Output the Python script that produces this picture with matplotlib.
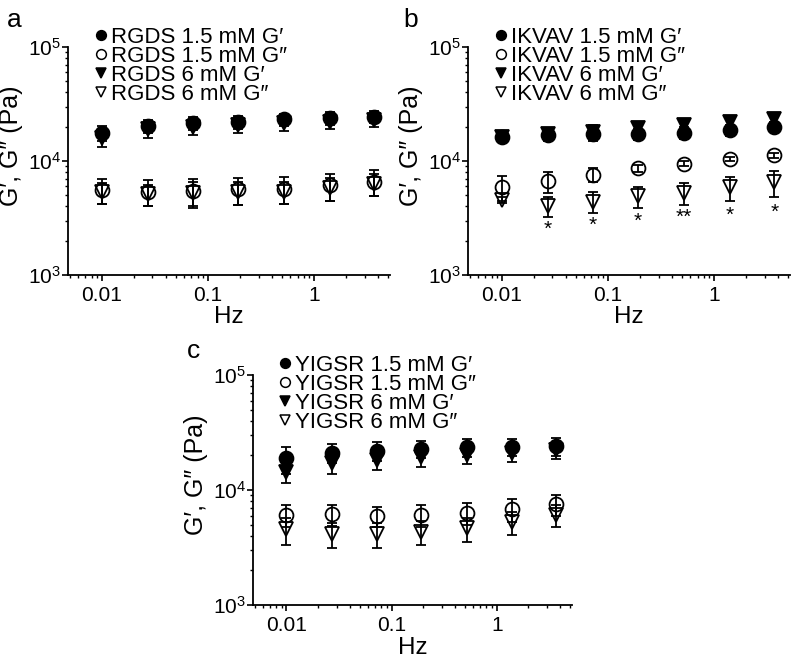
import numpy as np
import matplotlib.pyplot as plt
from matplotlib.ticker import LogLocator, NullFormatter

plt.rcParams['font.family'] = ['Liberation Sans', 'DejaVu Sans']
plt.rcParams['mathtext.fontset'] = 'custom'
plt.rcParams['mathtext.rm'] = 'Liberation Sans'
plt.rcParams['mathtext.it'] = 'Liberation Sans'

# ========================= DATA =========================
freq = [0.01, 0.027, 0.072, 0.19, 0.52, 1.4, 3.7]

# panel a - RGDS
a_g1_15 = [17600, 20300, 21500, 22000, 23200, 23800, 24300]
a_g1_15_err = [2500, 2800, 2800, 2800, 2900, 2900, 2900]
a_g2_15 = [5600, 5400, 5500, 5650, 5700, 6100, 6600]
a_g2_15_err = [1400, 1400, 1500, 1500, 1500, 1600, 1700]
a_g1_6 = [16000, 19000, 20000, 20800, 21500, 22200, 23000]
a_g1_6_err = [2600, 3000, 3000, 3200, 3200, 3200, 3200]
a_g2_6 = [5300, 5100, 5200, 5300, 5400, 5800, 6300]
a_g2_6_err = [1100, 1100, 1300, 1200, 1200, 1300, 1400]

# panel b - IKVAV
b_g1_15 = [16400, 16900, 17100, 17200, 17700, 18700, 20000]
b_g1_15_err = [1200, 1800, 2000, 2000, 2000, 2200, 2200]
b_g2_15 = [5950, 6650, 7600, 8600, 9500, 10400, 11200]
b_g2_15_err = [1500, 1400, 1100, 600, 400, 500, 500]
b_g1_6 = [16200, 17400, 18100, 19400, 20700, 22000, 23500]
b_g1_6_err = [1000, 2000, 2500, 2600, 2600, 2600, 2600]
b_g2_6 = [4550, 4050, 4400, 4900, 5250, 5900, 6500]
b_g2_6_err = [300, 800, 900, 1000, 1100, 1400, 1700]
b_star_x = [0.027, 0.072, 0.19, 0.52, 1.4, 3.7]
b_star_y = [2500, 2700, 2950, 3200, 3350, 3550]
b_star_txt = ['*', '*', '*', '**', '*', '*']

# panel c - YIGSR
c_g1_15 = [18900, 21100, 22000, 22900, 23500, 23800, 24100]
c_g1_15_err = [5000, 4000, 4000, 4000, 4000, 4200, 4500]
c_g2_15 = [6050, 6150, 5980, 6070, 6350, 6800, 7500]
c_g2_15_err = [1300, 1300, 1200, 1300, 1400, 1500, 1600]
c_g1_6 = [14400, 17100, 18200, 19500, 20200, 21100, 22300]
c_g1_6_err = [3000, 3200, 3300, 3500, 3500, 3500, 3600]
c_g2_6 = [4550, 4150, 4150, 4350, 4650, 5250, 6050]
c_g2_6_err = [1200, 1000, 1000, 1000, 1100, 1200, 1300]

panels = [
    ('a', 'RGDS', [a_g1_15, a_g2_15, a_g1_6, a_g2_6],
     [a_g1_15_err, a_g2_15_err, a_g1_6_err, a_g2_6_err]),
    ('b', 'IKVAV', [b_g1_15, b_g2_15, b_g1_6, b_g2_6],
     [b_g1_15_err, b_g2_15_err, b_g1_6_err, b_g2_6_err]),
    ('c', 'YIGSR', [c_g1_15, c_g2_15, c_g1_6, c_g2_6],
     [c_g1_15_err, c_g2_15_err, c_g1_6_err, c_g2_6_err]),
]

series_labels = ['1.5 mM G\u2032', '1.5 mM G\u2033', '6 mM G\u2032', '6 mM G\u2033']
markers = ['o', 'o', 'v', 'v']
filled = [True, False, True, False]

axes_pos = [[0.085, 0.5846, 0.4025, 0.3444],
            [0.585, 0.5846, 0.4025, 0.3444],
            [0.316, 0.0861, 0.399, 0.3474]]
letter_xy = [(-0.19, 1.088), (-0.2, 1.088), (-0.207, 1.074)]

fig = plt.figure(figsize=(8, 6.62), dpi=100)

for (letter, name, vals, errs), pos, (lx, ly) in zip(panels, axes_pos, letter_xy):
    ax = fig.add_axes(pos)
    # triangles first so circles sit on top
    for i in [2, 3, 0, 1]:
        ax.errorbar(freq, vals[i], yerr=errs[i], fmt=markers[i], color='black',
                    markersize=10,
                    markerfacecolor='black' if filled[i] else 'none',
                    markeredgewidth=1.3, elinewidth=1.3, capsize=3.5, capthick=1.3)

    # legend: small markers, tightly packed rows above the plot area
    hh = [plt.Line2D([], [], ls='none', marker=markers[k], color='black',
                     markersize=7 if markers[k] == 'o' else 7.5,
                     markerfacecolor='black' if filled[k] else 'none',
                     markeredgewidth=1.1) for k in range(4)]
    labels = [f'{name} {s}' for s in series_labels]
    ax.legend(hh, labels, loc='upper left', bbox_to_anchor=(0.081, 1.088), frameon=False,
              fontsize=16, handlelength=0.6, handletextpad=0.15, labelspacing=-0.09,
              borderpad=0, borderaxespad=0)

    if letter == 'b':
        for x, y, t in zip(b_star_x, b_star_y, b_star_txt):
            ax.text(x, y, t, ha='center', va='center', fontsize=15)

    ax.set_xscale('log')
    ax.set_yscale('log')
    ax.set_xlim(0.0048, 5.2)
    ax.set_ylim(1e3, 1e5)
    ax.set_xticks([0.01, 0.1, 1])
    ax.set_xticklabels(['0.01', '0.1', '1'])
    ax.xaxis.set_minor_locator(LogLocator(base=10, subs=np.arange(2, 10)))
    ax.xaxis.set_minor_formatter(NullFormatter())
    ax.yaxis.set_major_locator(LogLocator(base=10, numticks=5))
    ax.yaxis.set_minor_locator(LogLocator(base=10, subs=np.arange(2, 10), numticks=20))
    ax.yaxis.set_minor_formatter(NullFormatter())
    ax.spines['top'].set_visible(False)
    ax.spines['right'].set_visible(False)
    ax.spines['left'].set_linewidth(1.3)
    ax.spines['bottom'].set_linewidth(1.3)
    ax.tick_params(which='major', direction='out', length=4, width=1.2, labelsize=15)
    ax.tick_params(axis='x', which='major', pad=4)
    ax.tick_params(axis='y', which='major', pad=1)
    ax.tick_params(which='minor', direction='out', length=2.5, width=1.0)
    ax.set_xlabel('Hz', fontsize=17.5, labelpad=1)
    ax.set_ylabel('G\u2032, G\u2033 (Pa)', fontsize=18)
    ax.yaxis.set_label_coords(-0.14, 0.566)
    ax.text(lx, ly, letter, transform=ax.transAxes, fontsize=19,
            ha='left', va='baseline')

fig.savefig('out.png', dpi=100)
